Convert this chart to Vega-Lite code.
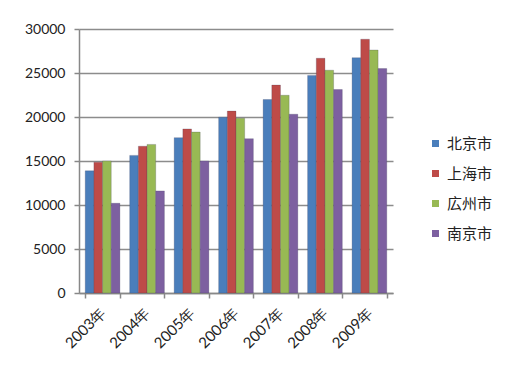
{
  "$schema": "https://vega.github.io/schema/vega-lite/v6.json",
  "autosize": "none",
  "width": 314,
  "height": 264,
  "padding": {"left": 79, "top": 29, "right": 117, "bottom": 88},
  "background": "white",
  "data": {
    "values": [
      {"year": "2003年", "city": "北京市", "v": 13883},
      {"year": "2003年", "city": "上海市", "v": 14867},
      {"year": "2003年", "city": "広州市", "v": 15003},
      {"year": "2003年", "city": "南京市", "v": 10196},
      {"year": "2004年", "city": "北京市", "v": 15638},
      {"year": "2004年", "city": "上海市", "v": 16683},
      {"year": "2004年", "city": "広州市", "v": 16884},
      {"year": "2004年", "city": "南京市", "v": 11602},
      {"year": "2005年", "city": "北京市", "v": 17653},
      {"year": "2005年", "city": "上海市", "v": 18645},
      {"year": "2005年", "city": "広州市", "v": 18287},
      {"year": "2005年", "city": "南京市", "v": 14997},
      {"year": "2006年", "city": "北京市", "v": 19978},
      {"year": "2006年", "city": "上海市", "v": 20668},
      {"year": "2006年", "city": "広州市", "v": 19851},
      {"year": "2006年", "city": "南京市", "v": 17538},
      {"year": "2007年", "city": "北京市", "v": 21989},
      {"year": "2007年", "city": "上海市", "v": 23623},
      {"year": "2007年", "city": "広州市", "v": 22469},
      {"year": "2007年", "city": "南京市", "v": 20317},
      {"year": "2008年", "city": "北京市", "v": 24725},
      {"year": "2008年", "city": "上海市", "v": 26675},
      {"year": "2008年", "city": "広州市", "v": 25317},
      {"year": "2008年", "city": "南京市", "v": 23123},
      {"year": "2009年", "city": "北京市", "v": 26738},
      {"year": "2009年", "city": "上海市", "v": 28838},
      {"year": "2009年", "city": "広州市", "v": 27610},
      {"year": "2009年", "city": "南京市", "v": 25504}
    ]
  },
  "mark": {"type": "bar", "stroke": "#3a3a5a", "strokeWidth": 0.4, "strokeOpacity": 0.6},
  "encoding": {
    "x": {
      "field": "year", "type": "nominal", "sort": null,
      "scale": {"paddingInner": 0.22, "paddingOuter": 0.14},
      "axis": {
        "title": null, "labelAngle": -45, "labelAlign": "right", "labelBaseline": "middle",
        "labelPadding": 12, "labelFont": "Lato", "labelFontSize": 15, "labelColor": "#222",
        "tickBand": "extent", "tickSize": 5, "tickColor": "#888", "tickWidth": 1.5,
        "domainColor": "#888", "domainWidth": 1.5, "grid": false
      }
    },
    "xOffset": {"field": "city", "type": "nominal", "sort": ["北京市", "上海市", "広州市", "南京市"]},
    "y": {
      "field": "v", "type": "quantitative",
      "scale": {"domain": [0, 30000], "nice": false},
      "axis": {
        "title": null, "values": [0, 5000, 10000, 15000, 20000, 25000, 30000],
        "format": "d", "labelFont": "Lato", "labelFontSize": 14, "labelColor": "#222",
        "labelPadding": 9, "tickSize": 5, "tickColor": "#888", "tickWidth": 1.5,
        "domainColor": "#888", "domainWidth": 1.5,
        "grid": true, "gridColor": "#8c8c8c", "gridWidth": 1.5
      }
    },
    "color": {
      "field": "city", "type": "nominal", "sort": ["北京市", "上海市", "広州市", "南京市"],
      "scale": {"domain": ["北京市", "上海市", "広州市", "南京市"], "range": ["#4a7ebb", "#be4b48", "#98b954", "#7d60a0"]},
      "legend": {
        "title": null, "orient": "none", "legendX": 349, "legendY": 107,
        "symbolType": "square", "symbolSize": 49, "symbolStrokeWidth": 0,
        "labelFont": "Noto Sans CJK SC", "labelFontSize": 15, "labelColor": "#222",
        "rowPadding": 14, "labelOffset": 4
      }
    }
  },
  "config": {"view": {"stroke": null}}
}
